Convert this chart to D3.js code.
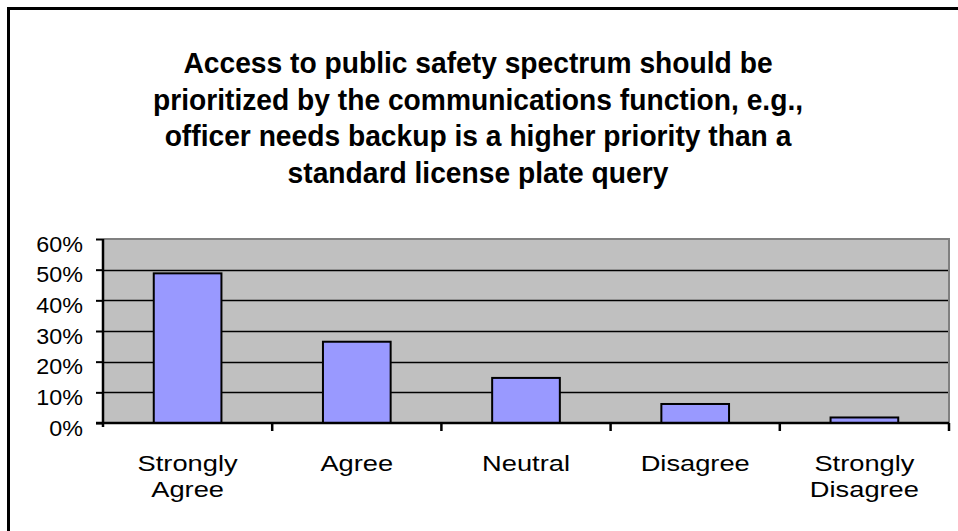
<!DOCTYPE html>
<html>
<head>
<meta charset="utf-8">
<script src="https://cdn.jsdelivr.net/npm/d3@7/dist/d3.min.js"></script>
<style>
  body { margin: 0; background: #fff; }
  text { font-family: "Liberation Sans", Arial, sans-serif; fill: #000; }
</style>
</head>
<body>
<script>
var width = 958;
var height = 531;

// chart data
var titleLines = [
  "Access to public safety spectrum should be",
  "prioritized by the communications function, e.g.,",
  "officer needs backup is a higher priority than a",
  "standard license plate query"
];
var categories = ["Strongly Agree", "Agree", "Neutral", "Disagree", "Strongly Disagree"];
var categoryLines = [["Strongly", "Agree"], ["Agree"], ["Neutral"], ["Disagree"], ["Strongly", "Disagree"]];
var values = [0.488, 0.265, 0.147, 0.062, 0.018];
var yTicks = [0, 0.1, 0.2, 0.3, 0.4, 0.5, 0.6];

var plot = {left: 103, right: 949, top: 239, bottom: 423};

var svg = d3.select("body")
  .append("svg")
  .attr("width", width)
  .attr("height", height);

// outer frame (clipped at right and bottom like the original)
svg.append("rect")
  .attr("x", 8.5)
  .attr("y", 8.5)
  .attr("width", 960)
  .attr("height", 530)
  .attr("fill", "none")
  .attr("stroke", "#000")
  .attr("stroke-width", 3);

// title
svg.append("g")
  .selectAll("text")
  .data(titleLines)
  .enter()
  .append("text")
  .attr("text-anchor", "middle")
  .attr("font-size", 30)
  .attr("font-weight", "bold")
  .attr("transform", function(d, i) { return "translate(478," + (73 + i * 36.5) + ") scale(0.94,1)"; })
  .text(function(d) { return d; });

var x = d3.scaleBand()
  .domain(categories)
  .range([plot.left, plot.right])
  .paddingInner(0.6)
  .paddingOuter(0.3);

var y = d3.scaleLinear()
  .domain([0, 0.6])
  .range([plot.bottom, plot.top]);

// plot background
svg.append("rect")
  .attr("x", plot.left)
  .attr("y", plot.top)
  .attr("width", plot.right - plot.left)
  .attr("height", plot.bottom - plot.top)
  .attr("fill", "#c0c0c0");

// gridlines
svg.append("g")
  .selectAll("line")
  .data(yTicks.slice(1, -1))
  .enter()
  .append("line")
  .attr("x1", plot.left)
  .attr("x2", plot.right)
  .attr("y1", function(d) { return Math.round(y(d)) + 0.5; })
  .attr("y2", function(d) { return Math.round(y(d)) + 0.5; })
  .attr("stroke", "#000")
  .attr("stroke-width", 1.3);

// plot border top and right
svg.append("path")
  .attr("d", "M" + plot.left + "," + (plot.top) + "H" + plot.right + "V" + plot.bottom)
  .attr("fill", "none")
  .attr("stroke", "#808080")
  .attr("stroke-width", 2);

// bars
svg.append("g")
  .selectAll("rect")
  .data(values)
  .enter()
  .append("rect")
  .attr("x", function(d, i) { return x(categories[i]); })
  .attr("y", function(d) { return y(d); })
  .attr("width", x.bandwidth())
  .attr("height", function(d) { return plot.bottom - y(d); })
  .attr("fill", "#9999ff")
  .attr("stroke", "#000")
  .attr("stroke-width", 2);

// y axis
var yAxis = d3.axisLeft(y)
  .tickValues(yTicks)
  .tickFormat(d3.format(".0%"))
  .tickSize(7)
  .tickPadding(12);

var yg = svg.append("g")
  .attr("transform", "translate(" + plot.left + ",0)")
  .call(yAxis);
yg.select(".domain").attr("stroke-width", 2.5).attr("d", "M0," + plot.top + "V" + (plot.bottom + 4));
yg.selectAll(".tick line").attr("stroke-width", 2);
yg.selectAll(".tick text")
  .attr("font-size", 22)
  .attr("dy", "0.55em")
  .attr("x", null)
  .attr("transform", "translate(-20,0) scale(1.06,1)")
  .style("font-family", "'Liberation Sans', Arial, sans-serif");

// x axis: ticks at band boundaries
var bounds = categories.map(function(c) { return x(c) - x.step() * x.paddingInner() / 2; });
bounds.push(plot.right);
var xg = svg.append("g");
xg.append("line")
  .attr("x1", plot.left - 7)
  .attr("x2", plot.right)
  .attr("y1", plot.bottom)
  .attr("y2", plot.bottom)
  .attr("stroke", "#000")
  .attr("stroke-width", 2.5);
xg.selectAll("line.tick")
  .data(bounds.slice(1))
  .enter()
  .append("line")
  .attr("class", "tick")
  .attr("x1", function(d) { return d; })
  .attr("x2", function(d) { return d; })
  .attr("y1", plot.bottom)
  .attr("y2", plot.bottom + 8)
  .attr("stroke", "#000")
  .attr("stroke-width", 2.5);

var labels = xg.selectAll("text")
  .data(categoryLines)
  .enter()
  .append("text")
  .attr("text-anchor", "middle")
  .attr("font-size", 22)
  .attr("transform", function(d, i) {
    return "translate(" + (x(categories[i]) + x.bandwidth() / 2) + ",0) scale(1.24,1)";
  });
labels.selectAll("tspan")
  .data(function(d) { return d; })
  .enter()
  .append("tspan")
  .attr("x", 0)
  .attr("y", function(d, j) { return 471 + j * 26; })
  .text(function(d) { return d; });
</script>
</body>
</html>
